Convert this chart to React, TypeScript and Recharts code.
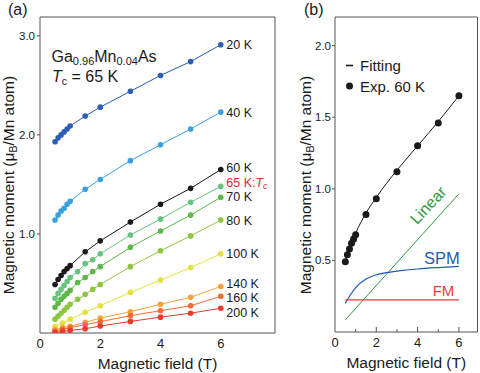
import React from "react";
import { LineChart, Line, XAxis, YAxis, LabelList, Label } from "recharts";

const FONT = "'Liberation Sans', Arial, Helvetica, sans-serif";
const FRAME = "#555";
const INK = "#1a1a1a";

// magnetic field grids (T)
const fieldA = [0.5, 0.6, 0.7, 0.8, 0.9, 1.0, 1.5, 2, 3, 4, 5, 6];
const fieldB = [0.5, 0.6, 0.7, 0.8, 0.9, 1.0, 1.25, 1.5, 1.75, 2, 3, 4, 5, 6];
const fieldC = [0.5, 0.75, 1.0, 1.5, 2, 3, 4, 5, 6];

// magnetic moment (μB/Mn atom) per temperature
const m20K = [1.93, 1.97, 2.0, 2.03, 2.06, 2.09, 2.19, 2.28, 2.44, 2.6, 2.74, 2.91];
const m40K = [1.14, 1.19, 1.23, 1.26, 1.3, 1.33, 1.45, 1.55, 1.74, 1.9, 2.06, 2.23];
const m60K = [0.49, 0.54, 0.58, 0.62, 0.65, 0.68, 0.82, 0.93, 1.12, 1.3, 1.46, 1.65];
const m65K = [0.35, 0.4, 0.44, 0.48, 0.52, 0.56, 0.62, 0.7, 0.74, 0.8, 0.99, 1.15, 1.32, 1.48];
const m70K = [0.26, 0.3, 0.34, 0.37, 0.4, 0.43, 0.51, 0.56, 0.62, 0.67, 0.865, 1.03, 1.19, 1.37];
const m80K = [0.14, 0.17, 0.2, 0.23, 0.26, 0.29, 0.34, 0.39, 0.44, 0.49, 0.67, 0.83, 0.98, 1.14];
const m100K = [0.067, 0.1, 0.14, 0.21, 0.275, 0.41, 0.535, 0.66, 0.8];
const m140K = [0.036, 0.054, 0.067, 0.107, 0.15, 0.215, 0.29, 0.36, 0.47];
const m160K = [0.02, 0.037, 0.054, 0.084, 0.114, 0.175, 0.225, 0.275, 0.37];
const m200K = [0.006, 0.016, 0.026, 0.043, 0.07, 0.117, 0.16, 0.2, 0.25];

// panel (b): decomposition of the 60 K curve
const fitField = [0.5, 0.75, 1, 1.5, 2, 3, 4, 5, 6];
const fitMoment = [0.49, 0.6, 0.69, 0.83, 0.94, 1.13, 1.3, 1.47, 1.65];
const spmField = [0.5, 0.75, 1, 1.5, 2, 2.5, 3, 4, 5, 6];
const spmMoment = [0.2, 0.26, 0.31, 0.37, 0.4, 0.415, 0.425, 0.44, 0.45, 0.458];
const linearField = [0.5, 6];
const linearMoment = [0.085, 0.965];
const fmField = [0.5, 6];
const fmMoment = [0.225, 0.225];

const pts = (xs: number[], ys: number[]) => xs.map((x, i) => ({ x, y: ys[i] }));

const tc = (
  <>
    <tspan fontStyle="italic">T</tspan>
    <tspan fontSize={8.5} dy={2.5} fontStyle="italic">c</tspan>
  </>
);

const seriesA = [
  { name: "20 K", field: fieldA, m: m20K, color: "#2a5db3", nudge: 0 },
  { name: "40 K", field: fieldA, m: m40K, color: "#3aa0de", nudge: 0 },
  { name: "60 K", field: fieldA, m: m60K, color: "#1a1a1a", nudge: -2.5 },
  { name: "65 K", field: fieldB, m: m65K, color: "#66c47e", nudge: -4 },
  { name: "70 K", field: fieldB, m: m70K, color: "#5cb946", nudge: -0.5 },
  { name: "80 K", field: fieldB, m: m80K, color: "#8dc63f", nudge: 0 },
  { name: "100 K", field: fieldC, m: m100K, color: "#e4e23a", nudge: 0 },
  { name: "140 K", field: fieldC, m: m140K, color: "#f6a13a", nudge: -2.5 },
  { name: "160 K", field: fieldC, m: m160K, color: "#f36c31", nudge: 1.5 },
  { name: "200 K", field: fieldC, m: m200K, color: "#ea3a2e", nudge: 3.8 },
].map((s) => ({ ...s, tc: s.name === "65 K" }));

const endLabel = (s: any) => (props: any) => {
  if (props.index !== s.m.length - 1) return null;
  const x = props.x ?? props.viewBox?.x;
  const y = props.y ?? props.viewBox?.y;
  if (x == null || y == null) return null;
  const red = "#e8262a";
  return (
    <text x={x + 5.5} y={y + s.nudge} dy="0.36em" fontSize={12.5} fontFamily={FONT} fill={s.tc ? red : INK}>
      {s.name}
      {s.tc ? <>:{tc}</> : null}
    </text>
  );
};

const XTitle = (props: any) => {
  const vb = props.viewBox || {};
  return (
    <text x={vb.x + vb.width / 2} y={vb.y + 35.5} textAnchor="middle" fontSize={15.5} fill={INK} fontFamily={FONT}>
      Magnetic field (T)
    </text>
  );
};

const yTitle = (dx: number) => (props: any) => {
  const vb = props.viewBox || {};
  const cx = vb.x + dx;
  const cy = 185;
  return (
    <text
      x={cx}
      y={cy}
      dy="0.36em"
      textAnchor="middle"
      fontSize={15.5}
      fill={INK}
      fontFamily={FONT}
      transform={`rotate(-90, ${cx}, ${cy})`}
    >
      Magnetic moment (μ<tspan fontSize={10.5} dy={3}>B</tspan>
      <tspan dy={-3}>/Mn atom)</tspan>
    </text>
  );
};

const BottomTickB = (props: any) => {
  const { x, y, payload } = props;
  const v = payload.value;
  const base = y - 6;
  const len = v % 2 === 0 ? 5 : 3;
  return (
    <g>
      {v > 0 ? <line x1={x} x2={x} y1={base} y2={base - len} stroke={FRAME} /> : null}
      {v % 2 === 0 ? (
        <text x={x} y={y} dy="0.71em" textAnchor="middle" fontSize={13} fill={INK} fontFamily={FONT}>
          {v}
        </text>
      ) : null}
    </g>
  );
};

const yTick = { fill: INK, fontSize: 11.5, fontFamily: FONT };
const fmt1 = (v: number) => v.toFixed(1);

function PanelA() {
  return (
    <LineChart width={290} height={373} margin={{ top: 16, right: 14, bottom: 0, left: 0 }}>
      <XAxis
        type="number"
        dataKey="x"
        domain={[0, 7.8]}
        allowDataOverflow
        ticks={[0, 2, 4, 6]}
        height={40}
        tickSize={0}
        tickMargin={6}
        tickLine={false}
        stroke={FRAME}
        tick={{ fill: INK, fontSize: 13, fontFamily: FONT }}
      >
        <Label content={XTitle} />
      </XAxis>
      <XAxis xAxisId="top" orientation="top" type="number" domain={[0, 7.8]} allowDataOverflow height={1} tick={false} tickLine={false} stroke={FRAME} />
      <YAxis
        type="number"
        dataKey="y"
        domain={[0, 3.19]}
        allowDataOverflow
        ticks={[1, 2, 3]}
        width={40}
        tickSize={3}
        tickMargin={2}
        stroke={FRAME}
        tick={yTick}
        tickFormatter={fmt1}
      >
        <Label content={yTitle(8)} />
      </YAxis>
      <YAxis yAxisId="right" orientation="right" type="number" domain={[0, 3.19]} allowDataOverflow ticks={[1, 2, 3]} width={1} tickSize={-7} tick={false} stroke={FRAME} />
      {seriesA.map((s) => (
        <Line
          key={s.name}
          data={pts(s.field, s.m)}
          dataKey="y"
          type="linear"
          stroke={s.color}
          strokeWidth={1}
          dot={{ r: 2.8, fill: s.color, stroke: "none" }}
          activeDot={false}
          isAnimationActive={false}
        >
          <LabelList dataKey="y" content={endLabel(s)} />
        </Line>
      ))}
    </LineChart>
  );
}

function PanelB() {
  return (
    <LineChart width={190} height={373} margin={{ top: 16, right: 1.5, bottom: 0, left: 0 }}>
      <XAxis
        type="number"
        dataKey="x"
        domain={[0, 6.9]}
        allowDataOverflow
        ticks={[0, 1, 2, 3, 4, 5, 6]}
        height={41}
        tickSize={0}
        tickMargin={6}
        tickLine={false}
        stroke={FRAME}
        tick={<BottomTickB />}
      >
        <Label content={XTitle} />
      </XAxis>
      <XAxis xAxisId="top" orientation="top" type="number" domain={[0, 6.9]} allowDataOverflow ticks={[1, 2, 3, 4, 5, 6]} height={1} tickSize={-5} tick={false} stroke={FRAME} />
      <YAxis
        type="number"
        dataKey="y"
        domain={[0, 2.2]}
        allowDataOverflow
        ticks={[0.5, 1, 1.5, 2]}
        width={45}
        tickSize={3}
        tickMargin={1}
        stroke={FRAME}
        tick={yTick}
        tickFormatter={fmt1}
      >
        <Label content={yTitle(15)} />
      </YAxis>
      <YAxis yAxisId="right" orientation="right" type="number" domain={[0, 2.2]} allowDataOverflow ticks={[0.5, 1, 1.5, 2]} width={1} tickSize={-5} tick={false} stroke={FRAME} />
      <Line data={pts(linearField, linearMoment)} dataKey="y" stroke="#2e9a44" strokeWidth={1} dot={false} activeDot={false} isAnimationActive={false} />
      <Line data={pts(spmField, spmMoment)} dataKey="y" type="monotone" stroke="#1d5bb5" strokeWidth={1.2} dot={false} activeDot={false} isAnimationActive={false} />
      <Line data={pts(fmField, fmMoment)} dataKey="y" stroke="#ee3b3b" strokeWidth={1.2} dot={false} activeDot={false} isAnimationActive={false} />
      <Line data={pts(fitField, fitMoment)} dataKey="y" type="monotone" stroke={INK} strokeWidth={1} dot={false} activeDot={false} isAnimationActive={false} />
      <Line
        data={pts(fieldA, m60K)}
        dataKey="y"
        stroke="none"
        dot={{ r: 3.5, fill: INK, stroke: "none" }}
        activeDot={false}
        isAnimationActive={false}
      />
    </LineChart>
  );
}

export default function App() {
  const t = { fontFamily: FONT, fill: INK };
  return (
    <div style={{ position: "absolute", left: 0, top: 0, width: 480, height: 373, background: "#fff", overflow: "hidden" }}>
      <div style={{ position: "absolute", left: 0, top: 0 }}>
        <PanelA />
      </div>
      <div style={{ position: "absolute", left: 290, top: 0 }}>
        <PanelB />
      </div>
      <svg width={480} height={373} style={{ position: "absolute", left: 0, top: 0, pointerEvents: "none" }}>
        <text x={8} y={15} fontSize={16} {...t}>(a)</text>
        <text x={304} y={15} fontSize={16} {...t}>(b)</text>
        <text x={51.5} y={61.5} fontSize={16} {...t}>
          Ga<tspan fontSize={11} dy={3}>0.96</tspan>
          <tspan dy={-3}>Mn</tspan>
          <tspan fontSize={11} dy={3}>0.04</tspan>
          <tspan dy={-3}>As</tspan>
        </text>
        <text x={52} y={82} fontSize={16} {...t}>
          <tspan fontStyle="italic">T</tspan>
          <tspan fontSize={10.5} dy={3}>c</tspan>
          <tspan dy={-3}> = 65 K</tspan>
        </text>
        <line x1={346} x2={353} y1={65.5} y2={65.5} stroke={INK} strokeWidth={1.6} />
        <text x={360} y={71} fontSize={15} {...t}>Fitting</text>
        <circle cx={349.5} cy={86} r={3.5} fill={INK} />
        <text x={360} y={92} fontSize={15} {...t}>Exp. 60 K</text>
        <text
          x={428}
          y={205}
          dy="0.36em"
          textAnchor="middle"
          fontSize={16}
          fontFamily={FONT}
          fill="#2e9a44"
          transform="rotate(-47, 428, 205)"
        >
          Linear
        </text>
        <text x={442} y={263.5} textAnchor="middle" fontSize={16.5} fontFamily={FONT} fill="#1d5bb5">SPM</text>
        <text x={443.5} y={296} textAnchor="middle" fontSize={15} fontFamily={FONT} fill="#ee3b3b">FM</text>
      </svg>
    </div>
  );
}
